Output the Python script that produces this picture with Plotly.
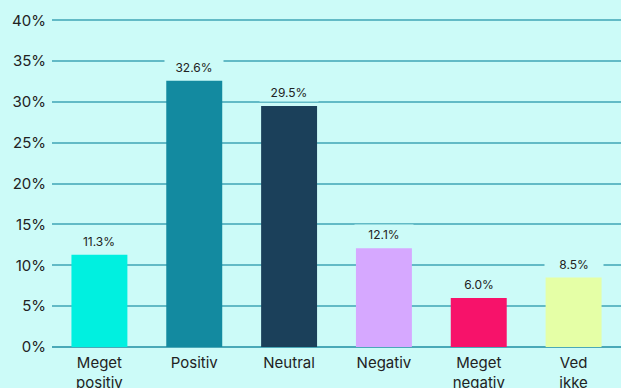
import plotly.graph_objects as go

categories = ["Meget<br>positiv", "Positiv", "Neutral", "Negativ", "Meget<br>negativ", "Ved<br>ikke"]
values = [11.3, 32.6, 29.5, 12.1, 6.0, 8.5]
bar_colors = ["#00F0E0", "#138AA0", "#1B405A", "#D6A8FF", "#F7126A", "#E5FFA6"]
y_ticks = [0, 5, 10, 15, 20, 25, 30, 35, 40]
y_tick_labels = [f"{t}%" for t in y_ticks]

BG = "#CCFBF8"
GRID = "#62BAC6"
FONT = "Inter, Roboto, sans-serif"

fig = go.Figure(
    go.Bar(
        x=categories,
        y=values,
        marker=dict(color=bar_colors, line=dict(width=0)),
        width=0.59,
        hoverinfo="skip",
    )
)

# value labels sit on a background-coloured box that hides the gridlines behind them
for cat, v in zip(categories, values):
    fig.add_annotation(
        x=cat, y=v, text=f"{v:.1f}%",
        showarrow=False, yanchor="bottom", yshift=4,
        width=56, height=16, bgcolor=BG,
        font=dict(family=FONT, size=12, color="#222222"),
    )

fig.update_layout(
    width=621, height=388,
    margin=dict(l=52, r=0, t=17, b=41, autoexpand=False),
    paper_bgcolor=BG, plot_bgcolor=BG,
    showlegend=False,
    bargap=0.4,
    font=dict(family=FONT, color="#222222"),
)
fig.update_yaxes(
    range=[0, 40.4], tickvals=y_ticks, ticktext=y_tick_labels,
    showgrid=True, gridcolor=GRID, gridwidth=1.5,
    zeroline=True, zerolinecolor="#4AA9B8", zerolinewidth=2,
    tickfont=dict(size=15, family=FONT, color="#222222"),
    ticks="", ticklabelstandoff=5, fixedrange=True, automargin=False,
)
fig.update_xaxes(
    range=[-0.5, 5.5], showgrid=False, showline=False,
    tickfont=dict(size=15, family=FONT, color="#222222"),
    ticks="", ticklabelstandoff=5, fixedrange=True, automargin=False,
)

fig.write_html("out.html", config={"displayModeBar": False})
